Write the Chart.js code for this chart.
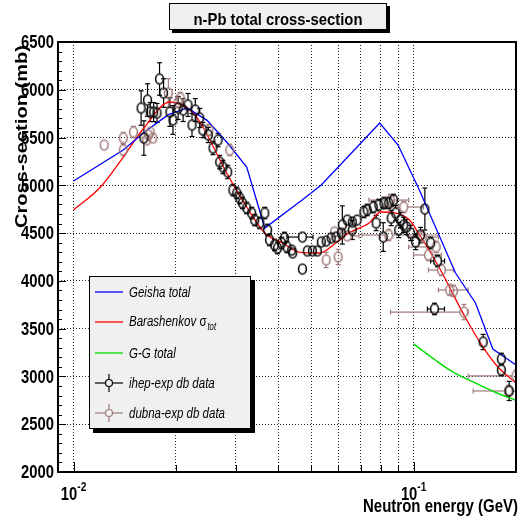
<!DOCTYPE html>
<html>
<head>
<meta charset="utf-8">
<title>n-Pb total cross-section</title>
<script src="https://cdn.jsdelivr.net/npm/chart.js@4/dist/chart.umd.min.js"></script>
<style>
  body { margin: 0; background: #fff; }
  canvas { display: block; }
</style>
</head>
<body>
<canvas id="xsec" width="522" height="527"></canvas>
<script>
// energies in GeV, cross-sections in mb

// model curves
const geishaE = [0.0100, 0.0140, 0.0162, 0.0190, 0.0216, 0.0247, 0.0284, 0.0323, 0.0365, 0.0470, 0.0535, 0.0795, 0.0900, 0.1033, 0.1328, 0.1520, 0.1710, 0.2000];
const geishaS = [5045, 5370, 5560, 5740, 5810, 5680, 5440, 5190, 4553, 4846, 5003, 5652, 5422, 4972, 4082, 3769, 3287, 3120];

const barashE = [0.0100, 0.0120, 0.0140, 0.0161, 0.0192, 0.0225, 0.0240, 0.0282, 0.0323, 0.0365, 0.0412, 0.0460, 0.0528, 0.0590, 0.0645, 0.0740, 0.0800, 0.0886, 0.0973, 0.1033, 0.1110, 0.1200, 0.1417, 0.1620, 0.1770, 0.2000];
const barashS = [4742, 4982, 5296, 5600, 5872, 5757, 5610, 5129, 4773, 4501, 4396, 4302, 4292, 4396, 4501, 4605, 4721, 4710, 4637, 4501, 4323, 4114, 3622, 3277, 3099, 2931];

const ggE = [0.100, 0.115, 0.130, 0.150, 0.175, 0.200];
const ggS = [3340, 3180, 3050, 2940, 2830, 2750];

// ihep-exp points
const ihepE = [0.0158, 0.0161, 0.0165, 0.0168, 0.0172, 0.0176, 0.0179, 0.0184, 0.0192, 0.0196, 0.0203, 0.0210, 0.0217, 0.0223, 0.0228, 0.0235, 0.0240, 0.0249, 0.0257, 0.0266, 0.0269, 0.0275, 0.0284, 0.0294, 0.0302, 0.0308, 0.0314, 0.0323, 0.0334, 0.0341, 0.0353, 0.0365, 0.0372, 0.0377, 0.0390, 0.0398, 0.0409, 0.0417, 0.0424, 0.0438, 0.0441, 0.0471, 0.0471, 0.0487, 0.0504, 0.0521, 0.0535, 0.0553, 0.0572, 0.0591, 0.0613, 0.0617, 0.0638, 0.0660, 0.0682, 0.0660, 0.0714, 0.0730, 0.0761, 0.0790, 0.0818, 0.0845, 0.0873, 0.0776, 0.0814, 0.0859, 0.0886, 0.0916, 0.0935, 0.0904, 0.0954, 0.0980, 0.1014, 0.1079, 0.1048, 0.1122, 0.1176, 0.1152, 0.1601, 0.1811, 0.1811, 0.1910];
const ihepS = [5809, 5495, 5893, 5767, 5767, 5757, 6113, 5966, 5767, 5684, 5809, 5788, 5841, 5631, 5788, 5705, 5579, 5527, 5391, 5474, 5244, 5192, 5140, 4951, 4920, 4867, 4815, 4763, 4710, 4637, 4606, 4710, 4533, 4428, 4376, 4344, 4397, 4449, 4355, 4323, 4292, 4459, 4124, 4313, 4313, 4313, 4407, 4417, 4449, 4459, 4501, 4585, 4637, 4616, 4637, 4533, 4721, 4742, 4773, 4794, 4815, 4815, 4846, 4606, 4459, 4658, 4710, 4637, 4585, 4533, 4564, 4501, 4407, 4752, 4480, 4397, 4208, 3706, 3360, 3183, 3067, 2848];
const ihepErr = [180, 180, 170, 100, 100, 100, 170, 150, 150, 150, 120, 120, 120, 120, 120, 100, 80, 80, 70, 70, 70, 70, 70, 60, 60, 60, 60, 60, 60, 60, 60, 60, 60, 60, 60, 60, 60, 60, 60, 50, 50, 50, 50, 50, 50, 50, 50, 50, 50, 50, 50, 200, 50, 50, 50, 100, 60, 60, 60, 60, 60, 60, 60, 80, 150, 80, 80, 80, 80, 80, 80, 80, 80, 220, 80, 60, 60, 60, 80, 60, 60, 100];
// [point index, low E, high E]
const ihepXerr = [[41, 0.0424, 0.0506], [76, 0.1122, 0.1233], [77, 0.1098, 0.1232]];

// dubna-exp points
const dubnaE = [0.0123, 0.0140, 0.0140, 0.0150, 0.0164, 0.0166, 0.0168, 0.0171, 0.0190, 0.0203, 0.0206, 0.0250, 0.0288, 0.0553, 0.0600, 0.0585, 0.0638, 0.0855, 0.0935, 0.0845, 0.1060, 0.1106, 0.1207, 0.1276, 0.1310, 0.1406, 0.2000, 0.1900, 0.1165];
const dubnaS = [5422, 5495, 5370, 5558, 5474, 5527, 5558, 5495, 5966, 5872, 5914, 5579, 5370, 4219, 4250, 4512, 4470, 4846, 4773, 4480, 4459, 4271, 4114, 3905, 3895, 3674, 3005, 2848, 4355];
const dubnaErr = [50, 60, 60, 60, 40, 40, 40, 40, 150, 60, 60, 60, 60, 80, 80, 40, 40, 60, 60, 60, 60, 60, 60, 60, 60, 80, 60, 60, 60];
const dubnaElo = [null, null, null, null, null, null, null, null, null, null, null, null, null, null, null, 0.0572, 0.0604, 0.0739, 0.0818, 0.0705, 0.0967, 0.1000, 0.1106, 0.1183, null, 0.0855, 0.1447, 0.1497, 0.0967];
const dubnaEhi = [null, null, null, null, null, null, null, null, null, null, null, null, null, null, null, 0.0668, 0.0691, 0.0967, 0.1068, 0.1183, 0.1183, 0.1207, 0.1310, 0.1447, null, 0.1447, 0.2000, 0.2000, 0.1160];

// axis ticks
const xTicks = [0.01, 0.02, 0.03, 0.04, 0.05, 0.06, 0.07, 0.08, 0.09, 0.1, 0.2];
const xLabelled = [0.01, 0.1];

const BROWN = '#a07a7a';
const FONT = '"Liberation Sans", Arial, Helvetica, sans-serif';

const pts = (xs, ys) => xs.map((x, i) => ({ x: x, y: ys[i] }));

// hollow marker, a bit taller than wide
function ring(color) {
    const c = document.createElement('canvas');
    c.width = 11;
    c.height = 13;
    const g = c.getContext('2d');
    g.strokeStyle = color;
    g.lineWidth = 1.5;
    g.beginPath();
    g.ellipse(5.5, 6.5, 3.9, 4.9, 0, 0, Math.PI * 2);
    g.stroke();
    return c;
}

function line(ctx, x1, y1, x2, y2) {
    ctx.beginPath();
    ctx.moveTo(x1, y1);
    ctx.lineTo(x2, y2);
    ctx.stroke();
}

function drawErrors(ctx, xs, ys, E, S, err, xerr, color) {
    ctx.strokeStyle = color;
    ctx.lineWidth = 1.2;
    const cap = 2.5;
    E.forEach((e, i) => {
        const px = xs.getPixelForValue(e);
        const py = ys.getPixelForValue(S[i]);
        const top = ys.getPixelForValue(S[i] + err[i]);
        const bot = ys.getPixelForValue(S[i] - err[i]);
        if (top < py - 5) {
            line(ctx, px, top, px, py - 5);
            line(ctx, px - cap, top, px + cap, top);
        }
        if (bot > py + 5) {
            line(ctx, px, py + 5, px, bot);
            line(ctx, px - cap, bot, px + cap, bot);
        }
        const h = xerr(i);
        if (h) {
            const l = xs.getPixelForValue(h[0]);
            const r = xs.getPixelForValue(h[1]);
            if (l < px - 4) {
                line(ctx, l, py, px - 4, py);
                line(ctx, l, py - cap, l, py + cap);
            }
            if (r > px + 4) {
                line(ctx, px + 4, py, r, py);
                line(ctx, r, py - cap, r, py + cap);
            }
        }
    });
}

// text squeezed horizontally by sx
function sqText(ctx, text, x, y, sx, align) {
    ctx.save();
    ctx.translate(x, y);
    ctx.scale(sx, 1);
    ctx.textAlign = align || 'left';
    ctx.fillText(text, 0, 0);
    ctx.restore();
}

function boxWithShadow(ctx, x, y, w, h, sh) {
    ctx.fillStyle = '#000';
    ctx.fillRect(x + sh, y + sh, w, h);
    ctx.fillStyle = '#f0f0f0';
    ctx.fillRect(x, y, w, h);
    ctx.strokeStyle = '#000';
    ctx.lineWidth = 1;
    ctx.strokeRect(x + 0.5, y + 0.5, w - 1, h - 1);
}

const rootStyle = {
    id: 'rootStyle',
    beforeDatasetsDraw(chart) {
        const { ctx, chartArea: a, scales: { x, y } } = chart;
        ctx.save();
        ctx.beginPath();
        ctx.rect(a.left, a.top, a.width, a.height);
        ctx.clip();
        const ihepH = {};
        ihepXerr.forEach(h => { ihepH[h[0]] = [h[1], h[2]]; });
        drawErrors(ctx, x, y, dubnaE, dubnaS, dubnaErr,
            i => dubnaElo[i] ? [dubnaElo[i], dubnaEhi[i]] : null, BROWN);
        drawErrors(ctx, x, y, ihepE, ihepS, ihepErr, i => ihepH[i], '#000');
        ctx.restore();
    },
    afterDraw(chart) {
        const { ctx, chartArea: a, scales: { x, y } } = chart;
        ctx.save();

        // frame and inward tick marks
        ctx.strokeStyle = '#000';
        ctx.lineWidth = 2;
        ctx.strokeRect(a.left, a.top, a.width, a.height);
        ctx.lineWidth = 1;
        for (let v = y.min; v <= y.max; v += 100) {
            const py = Math.round(y.getPixelForValue(v)) + 0.5;
            const len = v % 500 === 0 ? 8 : 4;
            line(ctx, a.left, py, a.left + len, py);
        }
        xTicks.forEach(v => {
            const px = Math.round(x.getPixelForValue(v)) + 0.5;
            const len = xLabelled.includes(v) ? 10 : 7;
            line(ctx, px, a.bottom, px, a.bottom - len);
        });

        ctx.fillStyle = '#000';

        // y tick labels
        ctx.font = 'bold 19px ' + FONT;
        ctx.textBaseline = 'middle';
        y.ticks.forEach(t => {
            sqText(ctx, String(t.value), 54, y.getPixelForValue(t.value) + 1, 0.78, 'right');
        });
        ctx.textBaseline = 'alphabetic';

        // x tick labels as powers of ten
        xLabelled.forEach(v => {
            const px = x.getPixelForValue(v);
            const sup = String(Math.round(Math.log10(v)));
            ctx.font = 'bold 19px ' + FONT;
            const w1 = ctx.measureText('10').width * 0.78;
            ctx.font = 'bold 13px ' + FONT;
            const w2 = ctx.measureText(sup).width * 0.78;
            const x0 = px - (w1 + w2) / 2;
            ctx.font = 'bold 19px ' + FONT;
            sqText(ctx, '10', x0, 500, 0.78);
            ctx.font = 'bold 13px ' + FONT;
            sqText(ctx, sup, x0 + w1, 491, 0.78);
        });

        // axis titles
        ctx.font = 'bold 19px ' + FONT;
        const xt = 'Neutron energy (GeV)';
        sqText(ctx, xt, 518, 512, 155 / ctx.measureText(xt).width, 'right');

        ctx.font = 'bold 20px ' + FONT;
        const yt = 'Cross-section (mb)';
        ctx.save();
        ctx.translate(27, 228);
        ctx.rotate(-Math.PI / 2);
        ctx.scale(183 / ctx.measureText(yt).width, 0.85);
        ctx.fillText(yt, 0, 0);
        ctx.restore();

        // title box
        boxWithShadow(ctx, 169, 3, 218, 27, 3);
        ctx.fillStyle = '#000';
        ctx.font = 'bold 17px ' + FONT;
        const tt = 'n-Pb total cross-section';
        sqText(ctx, tt, 278, 25, 169 / ctx.measureText(tt).width, 'center');

        // legend
        boxWithShadow(ctx, 89, 276, 162, 153, 4);
        const rows = [292, 322, 353, 383, 413];
        const lx1 = 95, lx2 = 123, lxm = 109, tx = 129;
        ctx.lineWidth = 1.3;
        [['#0000ff', 0], ['#ff0000', 1], ['#00dd00', 2]].forEach(([c, r]) => {
            ctx.strokeStyle = c;
            line(ctx, lx1, rows[r], lx2, rows[r]);
        });
        [['#000', 3], [BROWN, 4]].forEach(([c, r]) => {
            ctx.strokeStyle = c;
            ctx.lineWidth = 1.2;
            line(ctx, lx1, rows[r], lxm - 3.5, rows[r]);
            line(ctx, lxm + 3.5, rows[r], lx2, rows[r]);
            line(ctx, lxm, rows[r] - 9, lxm, rows[r] - 3.5);
            line(ctx, lxm, rows[r] + 3.5, lxm, rows[r] + 9);
            ctx.beginPath();
            ctx.arc(lxm, rows[r], 3.5, 0, Math.PI * 2);
            ctx.stroke();
        });

        ctx.fillStyle = '#000';
        ctx.font = 'italic 15px ' + FONT;
        const lsx = 96 / ctx.measureText('dubna-exp db data').width;
        sqText(ctx, 'Geisha total', tx, rows[0] + 5, lsx);
        const bar = 'Barashenkov ';
        sqText(ctx, bar, tx, rows[1] + 4, lsx);
        const bw = ctx.measureText(bar).width * lsx;
        ctx.font = '15px ' + FONT;
        sqText(ctx, 'σ', tx + bw, rows[1] + 4, lsx);
        const sw = ctx.measureText('σ').width * lsx;
        ctx.font = 'italic 10px ' + FONT;
        sqText(ctx, 'tot', tx + bw + sw + 1, rows[1] + 8, lsx);
        ctx.font = 'italic 15px ' + FONT;
        sqText(ctx, 'G-G total', tx, rows[2] + 5, lsx);
        sqText(ctx, 'ihep-exp db data', tx, rows[3] + 5, lsx);
        sqText(ctx, 'dubna-exp db data', tx, rows[4] + 5, lsx);

        ctx.restore();
    }
};

const ctx = document.getElementById('xsec').getContext('2d');

const xsecChart = new Chart(ctx, {
    type: 'scatter',
    data: {
        datasets: [
            {
                label: 'ihep-exp db data',
                data: pts(ihepE, ihepS),
                pointStyle: ring('#000'),
                pointRadius: 5
            },
            {
                label: 'dubna-exp db data',
                data: pts(dubnaE, dubnaS),
                pointStyle: ring(BROWN),
                pointRadius: 5
            },
            {
                label: 'Geisha total',
                data: pts(geishaE, geishaS),
                showLine: true,
                borderColor: '#0000ff',
                borderWidth: 1.3,
                pointRadius: 0
            },
            {
                label: 'Barashenkov σtot',
                data: pts(barashE, barashS),
                showLine: true,
                cubicInterpolationMode: 'monotone',
                borderColor: '#ff0000',
                borderWidth: 1.3,
                pointRadius: 0
            },
            {
                label: 'G-G total',
                data: pts(ggE, ggS),
                showLine: true,
                cubicInterpolationMode: 'monotone',
                borderColor: '#00dd00',
                borderWidth: 1.5,
                pointRadius: 0
            }
        ]
    },
    options: {
        responsive: false,
        animation: false,
        events: [],
        layout: {
            padding: { left: 58, top: 42, right: 5, bottom: 55 }
        },
        plugins: {
            legend: { display: false },
            tooltip: { enabled: false }
        },
        scales: {
            x: {
                type: 'logarithmic',
                min: 0.009,
                max: 0.2,
                afterBuildTicks: scale => {
                    scale.ticks = xTicks.slice(0, 10).map(v => ({ value: v }));
                },
                afterFit: scale => { scale.height = 0; },
                ticks: { display: false },
                grid: { color: '#222', lineWidth: 1, drawTicks: false },
                border: { display: false, dash: [1, 2] }
            },
            y: {
                min: 2000,
                max: 6500,
                ticks: { display: false, stepSize: 500 },
                afterFit: scale => { scale.width = 0; },
                grid: { color: '#222', lineWidth: 1, drawTicks: false },
                border: { display: false, dash: [1, 2] }
            }
        }
    },
    plugins: [rootStyle]
});
</script>
</body>
</html>
